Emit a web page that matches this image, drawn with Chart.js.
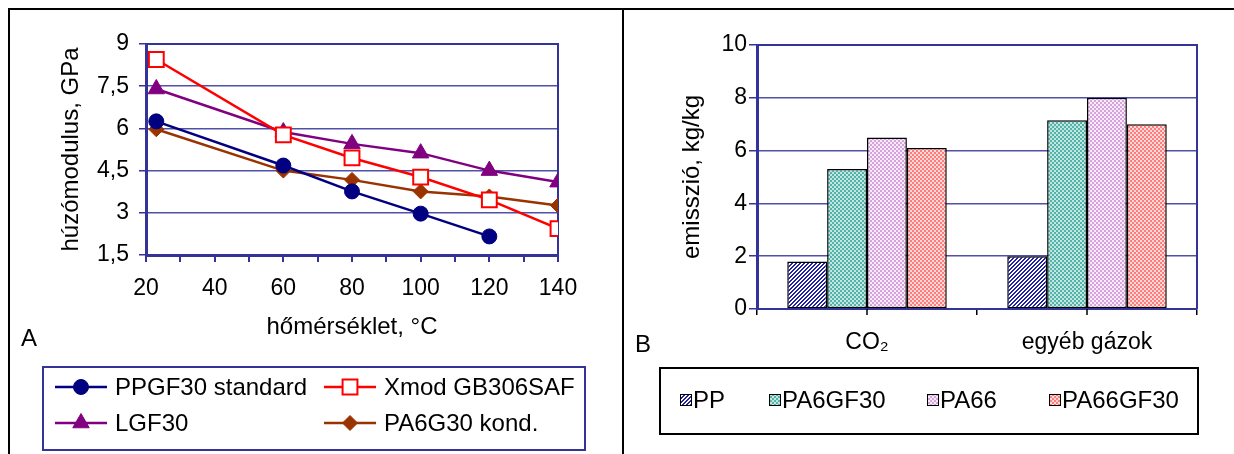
<!DOCTYPE html>
<html>
<head>
<meta charset="utf-8">
<script src="https://cdn.jsdelivr.net/npm/chart.js@4.4.1/dist/chart.umd.min.js"></script>
<style>
  body { margin: 0; background: #fff; width: 1234px; height: 454px; overflow: hidden; position: relative; }
  #frame { position: absolute; left: 8px; top: 8px; width: 1240px; height: 460px; border-top: 2px solid #000; border-left: 2px solid #000; }
  #divider { position: absolute; left: 622px; top: 8px; width: 2px; height: 460px; background: #000; }
  #left { position: absolute; left: 10px; top: 10px; }
  #right { position: absolute; left: 624px; top: 10px; }
</style>
</head>
<body>
<div id="frame"></div>
<div id="divider"></div>
<div id="left"><canvas id="modulusChart" width="612" height="444"></canvas></div>
<div id="right"><canvas id="emissionChart" width="610" height="444"></canvas></div>
<script>
// panel A: tensile modulus vs temperature
const temps = [23, 60, 80, 100, 120, 140]
const ppgf30 = [6.25, 4.68, 3.76, 2.97, 2.16, null]
const xmod = [8.45, 5.77, 4.95, 4.27, 3.46, 2.44]
const lgf30 = [7.4, 5.87, 5.45, 5.12, 4.5, 4.09]
const pa6g30 = [5.97, 4.5, 4.17, 3.76, 3.58, 3.26]
const lineNames = ['PPGF30 standard', 'Xmod GB306SAF', 'LGF30', 'PA6G30 kond.']

// panel B: emissions
const gases = ['CO₂', 'egyéb gázok']
const pp = [1.8, 2.0]
const pa6gf30 = [5.3, 7.15]
const pa66 = [6.5, 8.0]
const pa66gf30 = [6.1, 7.0]
const barNames = ['PP', 'PA6GF30', 'PA66', 'PA66GF30']

Chart.defaults.font.family = '"Liberation Sans", Arial, sans-serif'
Chart.defaults.font.size = 23
Chart.defaults.color = '#000'

const NAVY = '#333399'
const GRID = '#5050a8'

function points(vals) {
    return temps.map((t, i) => ({ x: t, y: vals[i] })).filter(p => p.y !== null)
}

function comma(v) {
    return String(v).replace('.', ',')
}

function pattern(fg, bg, diagonal) {
    const c = document.createElement('canvas')
    c.width = 4
    c.height = 4
    const g = c.getContext('2d')
    g.fillStyle = bg
    g.fillRect(0, 0, 4, 4)
    g.fillStyle = fg
    for (let x = 0; x < 4; x++) {
        for (let y = 0; y < 4; y++) {
            const on = diagonal ? (x + y) % 4 < 2 : ((x >> 1) + (y >> 1)) % 2 === 0
            if (on) g.fillRect(x, y, 1, 1)
        }
    }
    return g.createPattern(c, 'repeat')
}

// border round the plot area
const plotFrame = {
    id: 'plotFrame',
    beforeDatasetsDraw(chart) {
        const a = chart.chartArea
        const ctx = chart.ctx
        ctx.save()
        ctx.strokeStyle = NAVY
        ctx.lineWidth = 2
        ctx.beginPath()
        ctx.moveTo(a.left, a.top)
        ctx.lineTo(a.right, a.top)
        ctx.lineTo(a.right, a.bottom)
        ctx.stroke()
        ctx.restore()
    }
}

// legend in a bordered box + panel letter
const boxLegend = {
    id: 'boxLegend',
    afterDraw(chart, args, o) {
        const ctx = chart.ctx
        ctx.save()
        ctx.lineWidth = 2
        ctx.strokeStyle = o.borderColor
        ctx.strokeRect(o.box[0], o.box[1], o.box[2], o.box[3])
        ctx.font = '24px "Liberation Sans", Arial, sans-serif'
        ctx.textBaseline = 'middle'
        ctx.textAlign = 'left'
        chart.data.datasets.forEach((ds, i) => {
            const [x, y] = o.items[i]
            if (o.kind === 'line') {
                ctx.strokeStyle = ds.borderColor
                ctx.lineWidth = ds.borderWidth
                ctx.beginPath()
                ctx.moveTo(x, y)
                ctx.lineTo(x + 52, y)
                ctx.stroke()
                ctx.fillStyle = ds.pointBackgroundColor
                ctx.strokeStyle = ds.pointBorderColor
                ctx.lineWidth = ds.pointBorderWidth
                Chart.helpers.drawPoint(ctx, {
                    pointStyle: ds.pointStyle,
                    radius: ds.pointRadius,
                    borderWidth: ds.pointBorderWidth
                }, x + 26, y)
                ctx.fillStyle = '#000'
                ctx.fillText(ds.label, x + 60, y + 1)
            } else {
                ctx.fillStyle = ds.backgroundColor
                ctx.fillRect(x, y - 6, 12, 12)
                ctx.strokeStyle = '#000'
                ctx.lineWidth = 1
                ctx.strokeRect(x + 0.5, y - 5.5, 11, 11)
                ctx.fillStyle = '#000'
                ctx.fillText(ds.label, x + 13, y + 1)
            }
        })
        ctx.font = '24px "Liberation Sans", Arial, sans-serif'
        ctx.fillStyle = '#000'
        ctx.fillText(o.tag[0], o.tag[1], o.tag[2])
        ctx.restore()
    }
}

// extra tick marks under the category centres
const centreTicks = {
    id: 'centreTicks',
    afterDraw(chart) {
        const sx = chart.scales.x
        const ctx = chart.ctx
        ctx.save()
        ctx.strokeStyle = '#000'
        ctx.lineWidth = 1.5
        chart.data.labels.forEach((l, i) => {
            const px = Math.round(sx.getPixelForValue(i))
            ctx.beginPath()
            ctx.moveTo(px, chart.chartArea.bottom)
            ctx.lineTo(px, chart.chartArea.bottom + 6)
            ctx.stroke()
        })
        ctx.restore()
    }
}

function lineSet(label, vals, color, style, radius, fill) {
    return {
        label: label,
        data: points(vals),
        borderColor: color,
        borderWidth: 2.5,
        pointStyle: style,
        pointRadius: radius,
        pointHoverRadius: radius,
        pointBackgroundColor: fill || color,
        pointBorderColor: color,
        pointBorderWidth: fill ? 2 : 1,
        tension: 0
    }
}

new Chart(document.getElementById('modulusChart'), {
    type: 'line',
    data: {
        datasets: [
            lineSet(lineNames[0], ppgf30, '#000080', 'circle', 7.5),
            lineSet(lineNames[1], xmod, '#ff0000', 'rect', 10.5, '#ffffff'),
            lineSet(lineNames[2], lgf30, '#800080', 'triangle', 9.5),
            lineSet(lineNames[3], pa6g30, '#993300', 'rectRot', 7.5)
        ]
    },
    options: {
        responsive: false,
        animation: false,
        layout: { padding: { top: 34, right: 64, left: 0, bottom: 0 } },
        plugins: {
            legend: { display: false },
            tooltip: { enabled: false },
            boxLegend: {
                kind: 'line',
                borderColor: NAVY,
                box: [33, 357, 542, 83],
                items: [[45, 377], [314, 377], [45, 413], [314, 413]],
                tag: ['A', 11, 329]
            }
        },
        scales: {
            x: {
                type: 'linear',
                min: 20,
                max: 140,
                afterFit: s => { s.height = 199 },
                ticks: {
                    stepSize: 10,
                    padding: 13,
                    maxRotation: 0,
                    autoSkip: false,
                    callback: v => (v % 20 === 0 ? v : '')
                },
                grid: { drawOnChartArea: false, color: NAVY, tickLength: 7, lineWidth: 2 },
                border: { color: NAVY, width: 3 },
                title: {
                    display: true,
                    text: 'hőmérséklet, °C',
                    font: { size: 24 },
                    padding: { top: 0, bottom: 112 }
                }
            },
            y: {
                min: 1.5,
                max: 9,
                afterFit: s => { s.width = 136 },
                ticks: { stepSize: 1.5, padding: 10, callback: v => comma(v) },
                grid: { color: GRID, lineWidth: 1.5, tickLength: 7, tickColor: NAVY },
                border: { color: NAVY, width: 3 },
                title: {
                    display: true,
                    text: 'húzómodulus, GPa',
                    font: { size: 24 },
                    padding: { top: 47, bottom: 0 }
                }
            }
        }
    },
    plugins: [plotFrame, boxLegend]
})

function barSet(label, vals, fill) {
    return {
        label: label,
        data: vals,
        backgroundColor: fill,
        borderColor: '#000',
        borderWidth: 1.5,
        borderSkipped: false,
        categoryPercentage: 0.725,
        barPercentage: 1
    }
}

new Chart(document.getElementById('emissionChart'), {
    type: 'bar',
    data: {
        labels: gases,
        datasets: [
            barSet(barNames[0], pp, pattern('#2222a8', '#ffffff', true)),
            barSet(barNames[1], pa6gf30, pattern('#52b3ab', '#c4e6e1', false)),
            barSet(barNames[2], pa66, pattern('#d6a3de', '#f7ebf8', false)),
            barSet(barNames[3], pa66gf30, pattern('#ff7c7c', '#ffd8d8', false))
        ]
    },
    options: {
        responsive: false,
        animation: false,
        layout: { padding: { top: 35, right: 37, left: 0, bottom: 0 } },
        plugins: {
            legend: { display: false },
            tooltip: { enabled: false },
            boxLegend: {
                kind: 'bar',
                borderColor: '#000',
                box: [36, 358, 538, 66],
                items: [[56, 390], [145, 390], [303, 390], [425, 390]],
                tag: ['B', 11, 335]
            }
        },
        scales: {
            x: {
                afterFit: s => { s.height = 145 },
                ticks: { padding: 14, maxRotation: 0 },
                grid: { drawOnChartArea: false, color: '#000', tickLength: 6, lineWidth: 1.5 },
                border: { color: NAVY, width: 2 }
            },
            y: {
                min: 0,
                max: 10,
                afterFit: s => { s.width = 133 },
                ticks: { stepSize: 2, padding: 2 },
                grid: { color: GRID, lineWidth: 1.5, tickLength: 8, tickColor: NAVY },
                border: { color: NAVY, width: 3 },
                title: {
                    display: true,
                    text: 'emisszió, kg/kg',
                    font: { size: 24 },
                    padding: { top: 54, bottom: 0 }
                }
            }
        }
    },
    plugins: [plotFrame, boxLegend, centreTicks]
})
</script>
</body>
</html>
